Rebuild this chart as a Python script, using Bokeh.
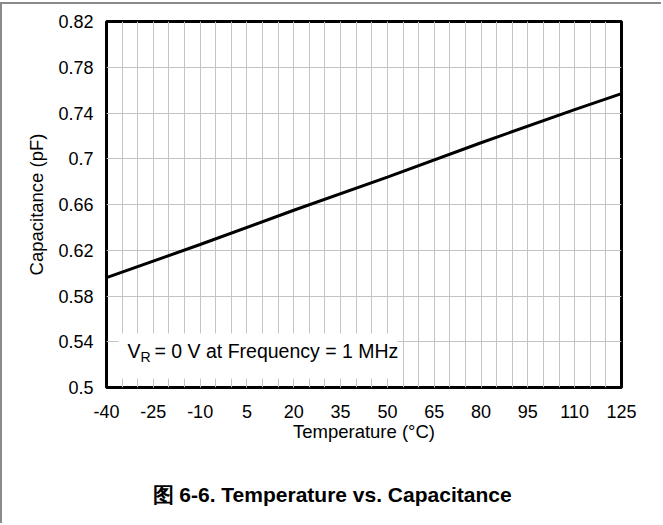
from bokeh.plotting import figure
from bokeh.models import FixedTicker, Label, BoxAnnotation, Title
from bokeh.embed import file_html
from bokeh.resources import INLINE

# Junction capacitance vs. temperature
temperature_c = [-40, -10, 20, 50, 80, 110, 125]
capacitance_pf = [0.596, 0.625, 0.655, 0.684, 0.714, 0.743, 0.757]

x_ticks = [-40, -25, -10, 5, 20, 35, 50, 65, 80, 95, 110, 125]
x_tick_labels = ["-40", "-25", "-10", "5", "20", "35", "50", "65", "80", "95", "110", "125"]
x_minor = list(range(-40, 126, 5))
y_ticks = [0.5, 0.54, 0.58, 0.62, 0.66, 0.7, 0.74, 0.78, 0.82]
y_tick_labels = ["0.5", "0.54", "0.58", "0.62", "0.66", "0.7", "0.74", "0.78", "0.82"]

FONT = "Liberation Sans"
GRID = "#c4c4c4"

p = figure(
    width=661, height=521,
    x_range=(-40, 125), y_range=(0.5, 0.82),
    output_backend="svg", toolbar_location=None,
    min_border_left=104, min_border_right=42,
    min_border_top=17, min_border_bottom=138,
    styles={"border-top": "2px solid #8a8a8a", "border-left": "2px solid #8a8a8a",
            "margin-top": "2px"},
)

p.outline_line_color = "black"
p.outline_line_width = 3

p.xaxis.ticker = FixedTicker(ticks=x_ticks, minor_ticks=x_minor)
p.yaxis.ticker = FixedTicker(ticks=y_ticks)
p.xaxis.major_label_overrides = {t: s for t, s in zip(x_ticks, x_tick_labels)}
p.yaxis.major_label_overrides = {t: s for t, s in zip(y_ticks, y_tick_labels)}

for ax in (p.xaxis, p.yaxis):
    ax.axis_line_color = None
    ax.major_tick_line_color = None
    ax.minor_tick_line_color = None
    ax.major_label_text_font = FONT
    ax.major_label_text_font_size = "18px"
    ax.major_label_text_color = "black"
    ax.axis_label_text_font = FONT
    ax.axis_label_text_font_size = "18.5px"
    ax.axis_label_text_font_style = "normal"
    ax.axis_label_text_color = "black"

p.xaxis.axis_label = "Temperature (°C)"
p.yaxis.axis_label = "Capacitance (pF)"
p.xaxis.major_label_standoff = 11
p.xaxis.axis_label_standoff = 0
p.yaxis.major_label_standoff = 7
p.yaxis.axis_label_standoff = 8

p.xgrid.grid_line_color = GRID
p.xgrid.minor_grid_line_color = GRID
p.ygrid.grid_line_color = GRID

p.line(temperature_c, capacitance_pf, line_color="black", line_width=3)

# white box behind the test-condition note
p.add_layout(BoxAnnotation(left=12, right=291, bottom=9, top=54,
                           left_units="screen", right_units="screen",
                           bottom_units="screen", top_units="screen",
                           fill_color="white", fill_alpha=1.0, line_color=None))

p.add_layout(Label(x=21, y=26, x_units="screen", y_units="screen", text="V",
                   text_font=FONT, text_font_size="19.5px", text_color="black"))
p.add_layout(Label(x=34, y=23, x_units="screen", y_units="screen", text="R",
                   text_font=FONT, text_font_size="14px", text_color="black"))
p.add_layout(Label(x=48, y=26, x_units="screen", y_units="screen",
                   text="= 0 V at Frequency = 1 MHz",
                   text_font=FONT, text_font_size="19.5px", text_color="black"))

# blank gap between the axis and the caption, then the caption itself
p.add_layout(Title(text=" ", standoff=9, text_font_size="18px"), "below")
p.add_layout(Title(text="图 6-6. Temperature vs. Capacitance", align="left",
                   offset=46, standoff=10,
                   text_font=FONT, text_font_size="21px", text_font_style="bold",
                   text_color="black"), "below")

open("out.html", "w").write(file_html(p, INLINE))
